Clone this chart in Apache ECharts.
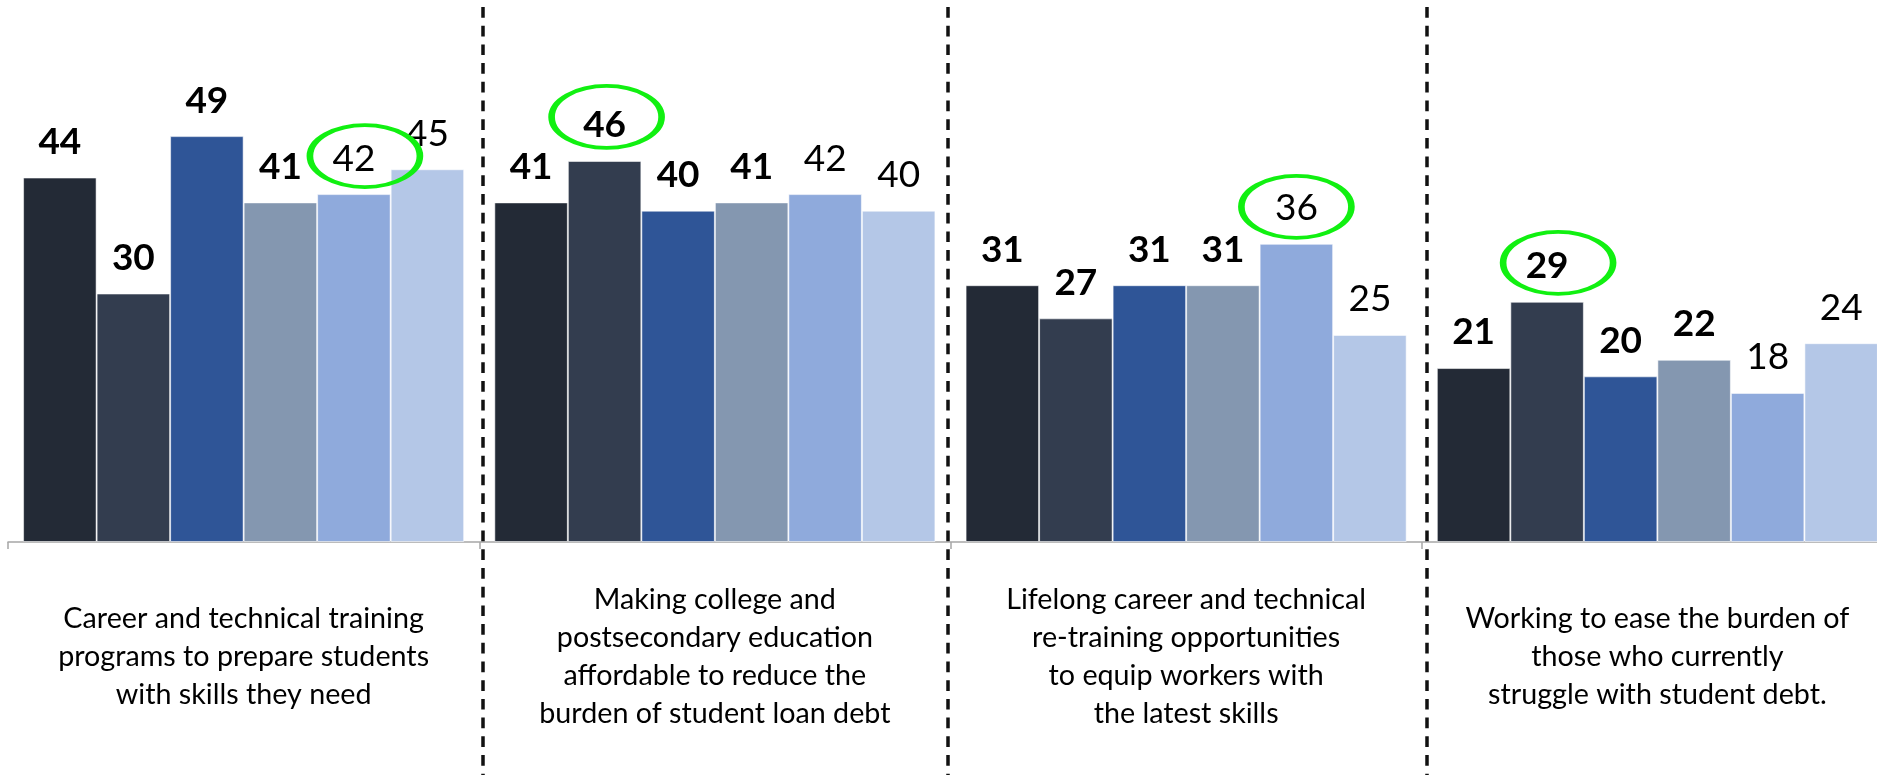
<!DOCTYPE html>
<html>
<head>
<meta charset="utf-8">
<script src="https://cdn.jsdelivr.net/npm/echarts@6/dist/echarts.min.js"></script>
<style>
  html, body { margin: 0; padding: 0; background: #fff; }
  #chart { width: 1877px; height: 775px; }
</style>
</head>
<body>
<div id="chart"></div>
<script>
// categories (label lines as shown)
const categories = [
  'Career and technical training\nprograms to prepare students\nwith skills they need',
  'Making college and\npostsecondary education\naffordable to reduce the\nburden of student loan debt',
  'Lifelong career and technical\nre-training opportunities\nto equip workers with\nthe latest skills',
  'Working to ease the burden of\nthose who currently\nstruggle with student debt.',
]
// six series, one value per category
const s1 = [44, 41, 31, 21]
const s2 = [30, 46, 27, 29]
const s3 = [49, 40, 31, 20]
const s4 = [41, 41, 31, 22]
const s5 = [42, 42, 36, 18]
const s6 = [45, 40, 25, 24]
// which series is circled in each category
const circled = [4, 1, 4, 1]

const seriesValues = [s1, s2, s3, s4, s5, s6]
const colors = ['#232a36', '#333d4f', '#2f5597', '#8497b0', '#8faadc', '#b4c7e7']
const boldLabel = [true, true, true, true, false, false]
const ringShift = [[11, -38], [2, -44], [0, -37], [11, -39]]
const font = 'Lato'

const chart = echarts.init(document.getElementById('chart'))

const series = seriesValues.map((vals, si) => {
  const marks = []
  circled.forEach((s, ci) => {
    if (s === si) {
      marks.push({ coord: [ci, vals[ci]], symbolOffset: ringShift[ci] })
    }
  })
  return {
    name: 'Series ' + (si + 1),
    type: 'bar',
    data: vals,
    barGap: '0%',
    barCategoryGap: '6.4%',
    itemStyle: {
      color: colors[si],
      borderColor: 'rgba(255,255,255,0.55)',
      borderWidth: 1,
    },
    label: {
      show: true,
      position: 'top',
      distance: 17,
      color: '#000',
      fontFamily: font,
      fontSize: 37,
      fontWeight: boldLabel[si] ? 'bold' : 'normal',
    },
    markPoint: marks.length ? {
      symbol: 'path://M0,30A50,30 0 1 1 100,30A50,30 0 1 1 0,30Z',
      symbolSize: [110, 62],
      itemStyle: { color: 'transparent', borderColor: '#11f011', borderWidth: 5 },
      label: { show: false },
      silent: true,
      data: marks,
    } : undefined,
  }
})

const option = {
  animation: false,
  backgroundColor: '#fff',
  grid: { left: 8, top: 45, width: 1885, height: 497, containLabel: false, outerBoundsMode: 'none' },
  xAxis: {
    type: 'category',
    data: categories,
    boundaryGap: true,
    axisLine: { lineStyle: { color: '#a6a6a6', width: 1.5 } },
    axisTick: { show: true, length: 7, lineStyle: { color: '#a6a6a6', width: 1.5 } },
    axisLabel: {
      interval: 0,
      margin: 115,
      verticalAlign: 'middle',
      align: 'center',
      color: '#000',
      fontFamily: font,
      fontSize: 28.7,
      lineHeight: 38,
    },
  },
  yAxis: {
    type: 'value',
    min: 0,
    max: 60,
    show: false,
    splitLine: { show: false },
  },
  series,
}
chart.setOption(option)

// dashed separators between the groups, from the axis positions
const centers = categories.map((c, i) => chart.convertToPixel({ xAxisIndex: 0 }, i))
const nudge = [4, -3, 5]
const separators = []
for (let i = 0; i < centers.length - 1; i++) {
  const x = Math.round((centers[i] + centers[i + 1]) / 2 + nudge[i])
  separators.push({
    type: 'line',
    silent: true,
    z: 100,
    shape: { x1: x, y1: 7, x2: x, y2: 775 },
    style: { stroke: '#111', lineWidth: 3.5, lineDash: [10.7, 8] },
  })
}
chart.setOption({ graphic: separators })
</script>
</body>
</html>
